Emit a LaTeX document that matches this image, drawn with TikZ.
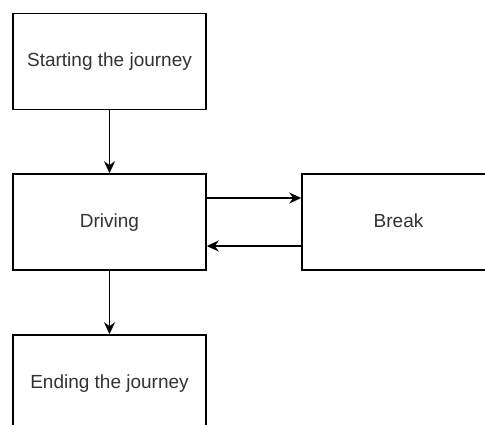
\documentclass[tikz,border=0pt]{standalone}
\usepackage{fontspec}
\setmainfont{Liberation Sans}
\usepackage{xcolor}
\usetikzlibrary{arrows.meta}
\definecolor{txtgray}{HTML}{333333}

\begin{document}
\begin{tikzpicture}[x=1pt,y=1pt,
    stage/.style={rectangle,draw,line width=1.5pt,minimum width=193pt,minimum height=96pt,
        inner sep=0pt,text height=14pt,text depth=4pt,text=txtgray,font=\fontsize{19}{23}\selectfont},
    flow/.style={draw,line width=1.5pt,-{Stealth[length=12pt,width=11pt]}}]
    \useasboundingbox[fill=white] (0,0) rectangle (485,-424);

    \node[stage] (start) at (109.5,-61.5) {Starting the journey};
    \node[stage] (drive) at (109.5,-222) {Driving};
    \node[stage] (break) at (398.5,-222) {Break};
    \node[stage] (end) at (109.5,-383) {Ending the journey};

    \draw[flow] (start) -- (drive);
    \draw[flow] (drive) -- (end);
    \draw[flow] ([yshift=24pt]drive.east) -- ([yshift=24pt]break.west);
    \draw[flow] ([yshift=-24pt]break.west) -- ([yshift=-24pt]drive.east);
\end{tikzpicture}
\end{document}
